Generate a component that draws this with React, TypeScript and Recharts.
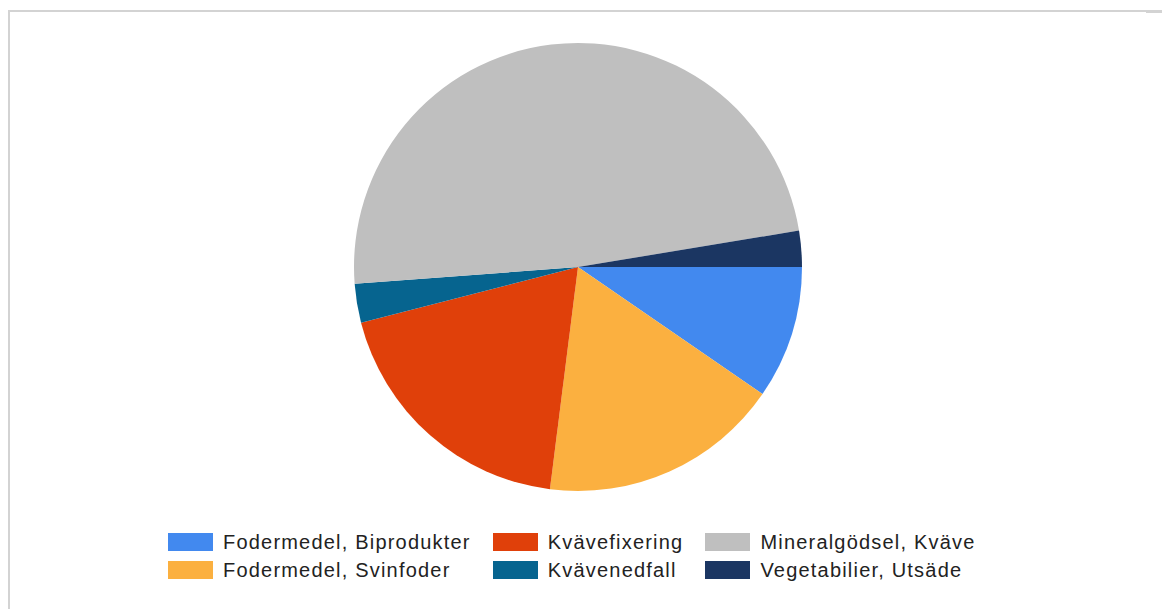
import { Cell, Legend, Pie, PieChart } from "recharts";

// share of nitrogen input (percent)
const categories = [
  "Fodermedel, Biprodukter",
  "Fodermedel, Svinfoder",
  "Kvävefixering",
  "Kvävenedfall",
  "Mineralgödsel, Kväve",
  "Vegetabilier, Utsäde",
];
const values = [9.6, 17.4, 19.0, 2.8, 48.6, 2.6];
const colors = ["#4289ef", "#fbb040", "#e0400a", "#06648f", "#bfbfbf", "#1b3662"];

// legend is laid out row by row: 3 columns
const legendOrder = [0, 2, 4, 1, 3, 5];

const data = categories.map((name, i) => ({ name, value: values[i] }));

function renderLegend() {
  return (
    <div
      style={{
        display: "grid",
        gridTemplateColumns: "auto auto auto",
        columnGap: 22,
        rowGap: 10,
        fontFamily: "'Liberation Sans', Arial, sans-serif",
        fontSize: 20,
        letterSpacing: 1.2,
        color: "#222",
      }}
    >
      {legendOrder.map((i) => (
        <div key={categories[i]} style={{ display: "flex", alignItems: "center", height: 18 }}>
          <span
            style={{
              display: "inline-block",
              width: 45,
              height: 18,
              background: colors[i],
              marginRight: 10,
            }}
          />
          <span style={{ whiteSpace: "nowrap" }}>{categories[i]}</span>
        </div>
      ))}
    </div>
  );
}

export default function App() {
  return (
    <div style={{ position: "absolute", left: 0, top: 0, width: 1162, height: 609, background: "#fff", overflow: "hidden" }}>
      <div
        style={{
          position: "absolute",
          left: 8,
          top: 10,
          width: 1138,
          height: 700,
          borderLeft: "2px solid #d3d3d3",
          borderTop: "2px solid #d3d3d3",
        }}
      />
      <div style={{ position: "absolute", left: 1146, top: 10, width: 16, height: 3, background: "#d3d3d3" }} />
      <PieChart
        width={1162}
        height={609}
        margin={{ top: 0, right: 0, bottom: 0, left: 0 }}
        style={{ position: "absolute", left: 0, top: 0 }}
      >
        <Pie
          data={data}
          dataKey="value"
          nameKey="name"
          cx={578}
          cy={267}
          outerRadius={224}
          startAngle={0}
          endAngle={-360}
          stroke="none"
          isAnimationActive={false}
        >
          {data.map((d, i) => (
            <Cell key={d.name} fill={colors[i]} />
          ))}
        </Pie>
        <Legend
          content={renderLegend}
          wrapperStyle={{ left: 168, top: 533, width: "auto", bottom: "auto" }}
        />
      </PieChart>
    </div>
  );
}
